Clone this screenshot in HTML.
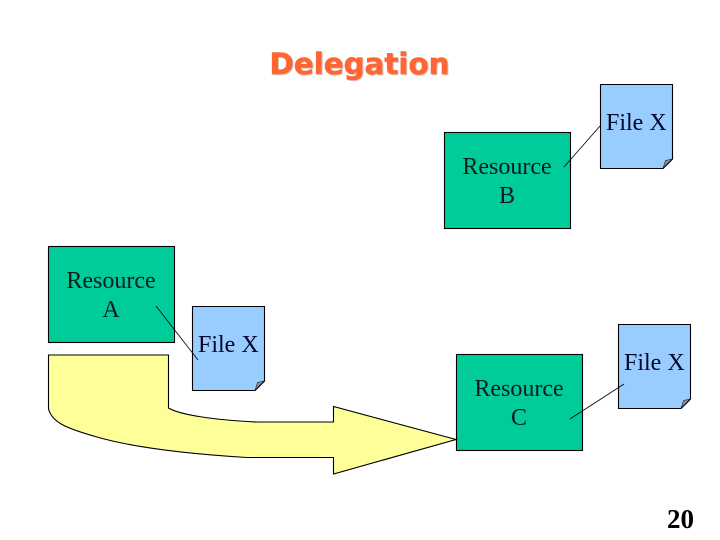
<!DOCTYPE html>
<html>
<head>
<meta charset="utf-8">
<style>
html,body{margin:0;padding:0;background:#fff;width:720px;height:540px;overflow:hidden}
svg{display:block}
.t{font-family:"Liberation Serif",serif;font-size:24px;fill:#0c1c1c}
.f{font-family:"Liberation Serif",serif;font-size:24px;fill:#06062a}
</style>
</head>
<body>
<svg width="720" height="540" viewBox="0 0 720 540" xmlns="http://www.w3.org/2000/svg">
<defs>
<g id="file">
<path d="M0.5 0.5H72.5V75L63 84.5H0.5Z" fill="#99ccff" stroke="#000" stroke-width="1.1"/>
<path d="M63 84.5L65.5 76.5L72.5 75Z" fill="#8294b4" stroke="#333" stroke-width=".7"/>
<line x1="63" y1="84.5" x2="72.5" y2="75" stroke="#000" stroke-width="1.1"/>
</g>
</defs>

<text x="270.5" y="75" font-family="'DejaVu Sans',sans-serif" font-weight="700" font-size="29" textLength="180" lengthAdjust="spacingAndGlyphs" fill="#d8c8c0" stroke="#d8c8c0" stroke-width=".6">Delegation</text>
<text x="269.5" y="74" font-family="'DejaVu Sans',sans-serif" font-weight="700" font-size="29" textLength="180" lengthAdjust="spacingAndGlyphs" fill="#ff6633" stroke="#ff6633" stroke-width=".6">Delegation</text>

<rect x="48.5" y="246.5" width="126" height="96" fill="#00cc99" stroke="#000" stroke-width="1.1"/>
<rect x="444.5" y="132.5" width="126" height="96" fill="#00cc99" stroke="#000" stroke-width="1.1"/>
<rect x="456.5" y="354.5" width="126" height="96" fill="#00cc99" stroke="#000" stroke-width="1.1"/>

<path d="M48.5 355H168.5V408C180 415 215 420 257 422H333.5V406.5L456 439.5L333.5 474V457.5H247C190 454 135 448 97 437C65 428 52 422 48.5 409Z" fill="#ffff99" stroke="#000" stroke-width="1.1" stroke-linejoin="miter"/>

<use href="#file" x="600" y="84"/>
<use href="#file" x="192" y="306"/>
<use href="#file" x="618" y="324"/>

<line x1="564" y1="167" x2="600" y2="126" stroke="#000" stroke-width=".8"/>
<line x1="156" y1="306" x2="198" y2="360" stroke="#000" stroke-width=".8"/>
<line x1="570" y1="419" x2="624" y2="384" stroke="#000" stroke-width=".8"/>

<text class="t" x="507" y="174" text-anchor="middle">Resource</text>
<text class="t" x="507" y="203" text-anchor="middle">B</text>
<text class="t" x="111" y="288" text-anchor="middle">Resource</text>
<text class="t" x="111" y="317" text-anchor="middle">A</text>
<text class="t" x="519" y="396" text-anchor="middle">Resource</text>
<text class="t" x="519" y="425" text-anchor="middle">C</text>

<text class="f" x="606" y="130">File X</text>
<text class="f" x="198" y="352">File X</text>
<text class="f" x="624" y="370">File X</text>

<text x="667" y="528" font-family="'Liberation Serif',serif" font-weight="700" font-size="27" fill="#000">20</text>
</svg>
</body>
</html>
